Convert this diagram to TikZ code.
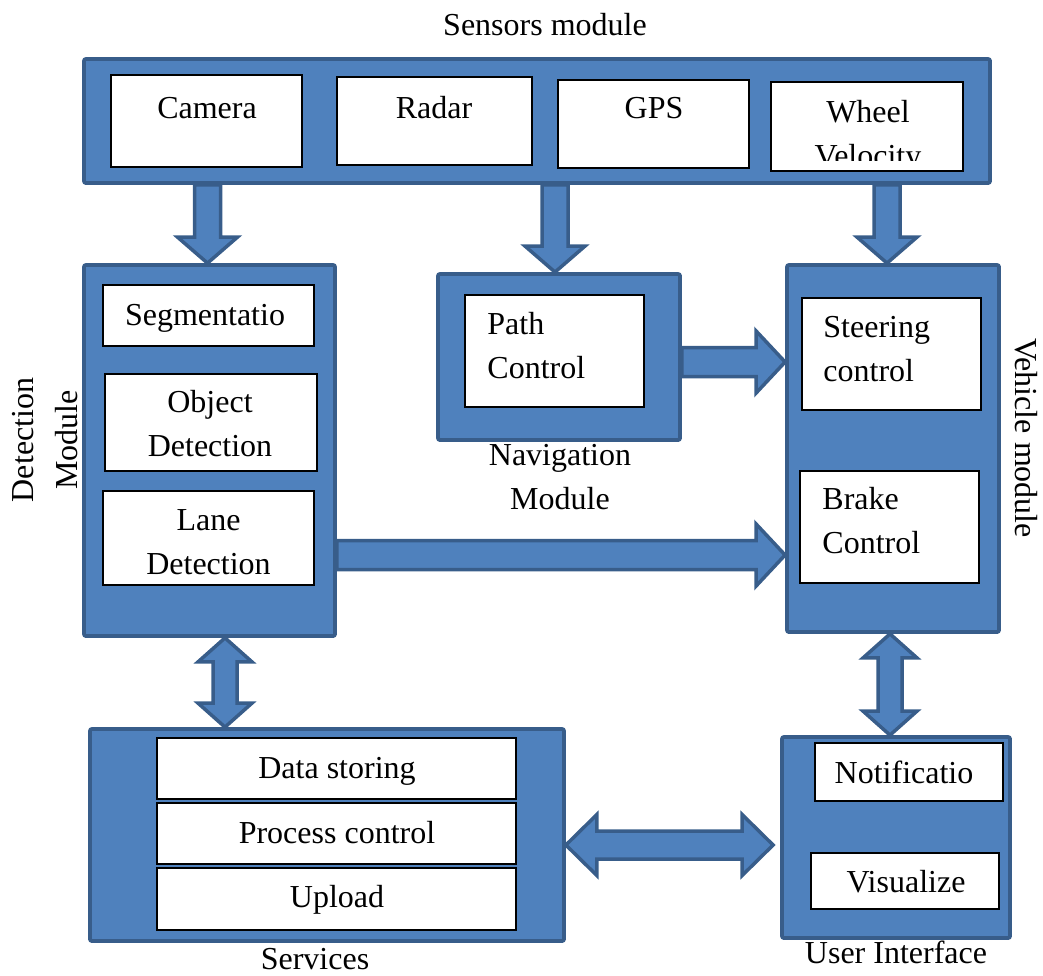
\documentclass[tikz,border=0pt]{standalone}
\usepackage{fontspec}
\setmainfont{Liberation Serif}
\usetikzlibrary{fit,calc}
\definecolor{bfill}{HTML}{4F81BD}
\definecolor{bdr}{HTML}{385D8A}
\newcommand\fs{\fontsize{16}{22}\selectfont}
\newcommand\ml[2][c]{\begin{tabular}[t]{@{}#1@{}}#2\end{tabular}}
% single block arrow, downwards: #1 start anchor (y), #2 tip anchor, #3 x offset (px)
\newcommand\varrowblk[3]{%
\draw[barrow] let \p1=(#1), \p2=($(#2)+(#3,0)$) in
 (\x2-6.5pt,\y1) -- (\x2+6.5pt,\y1) -- (\x2+6.5pt,\y2+13pt) -- (\x2+15pt,\y2+13pt)
 -- (\x2,\y2) -- (\x2-15pt,\y2+13pt) -- (\x2-6.5pt,\y2+13pt) -- cycle;}
% single block arrow, to the right: #1 start anchor (x), #2 tip anchor, #3 y offset (px)
\newcommand\harrowblk[3]{%
\draw[barrow] let \p1=(#1), \p2=($(#2)+(0,#3)$) in
 (\x1,\y2+7.25pt) -- (\x2-14.5pt,\y2+7.25pt) -- (\x2-14.5pt,\y2+15.5pt) -- (\x2,\y2)
 -- (\x2-14.5pt,\y2-15.5pt) -- (\x2-14.5pt,\y2-7.25pt) -- (\x1,\y2-7.25pt) -- cycle;}
% double block arrow, vertical: #1 top anchor, #2 bottom anchor, #3 x offset (px)
\newcommand\vdarrowblk[3]{%
\draw[barrow] let \p1=($(#1)+(#3,0)$), \p2=(#2) in
 (\x1,\y1) -- (\x1+13.5pt,\y1-12pt) -- (\x1+6pt,\y1-12pt) -- (\x1+6pt,\y2+12pt)
 -- (\x1+13.5pt,\y2+12pt) -- (\x1,\y2) -- (\x1-13.5pt,\y2+12pt) -- (\x1-6pt,\y2+12pt)
 -- (\x1-6pt,\y1-12pt) -- (\x1-13.5pt,\y1-12pt) -- cycle;}
% double block arrow, horizontal: #1 left anchor, #2 right anchor, #3 y offset, #4 right x offset
\newcommand\hdarrowblk[4]{%
\draw[barrow] let \p1=($(#1)+(0,#3)$), \p2=($(#2)+(#4,0)$) in
 (\x1,\y1) -- (\x1+15.5pt,\y1+15.25pt) -- (\x1+15.5pt,\y1+7pt) -- (\x2-15.5pt,\y1+7pt)
 -- (\x2-15.5pt,\y1+15.25pt) -- (\x2,\y1) -- (\x2-15.5pt,\y1-15.25pt) -- (\x2-15.5pt,\y1-7pt)
 -- (\x1+15.5pt,\y1-7pt) -- (\x1+15.5pt,\y1-15.25pt) -- cycle;}
\tikzset{
  bluebox/.style={draw=bdr, fill=bfill, line width=1.9pt, rounded corners=1pt, inner sep=0pt},
  whitebox/.style={draw=black, fill=white, line width=0.7pt, inner sep=0pt},
  barrow/.style={draw=bdr, fill=bfill, line width=1.75pt, line join=miter},
  txt/.style={inner sep=0pt, anchor=base}
}
\begin{document}
\begin{tikzpicture}[x=0.5pt, y=-0.5pt, font=\fs]
\useasboundingbox (0,0) rectangle (1043,975);
% module boxes
\node[bluebox, fit={(84,59)(990,183)}] (sens) {};
\node[bluebox, fit={(84,265)(335,636)}] (det) {};
\node[bluebox, fit={(438,274)(680,440)}] (nav) {};
\node[bluebox, fit={(787,265)(999,632)}] (veh) {};
\node[bluebox, fit={(90,729)(564,941)}] (serv) {};
\node[bluebox, fit={(782,737)(1010,938)}] (ui) {};
% inner boxes
\node[whitebox, fit={(111,75)(302,167)}] (cam) {};
\node[whitebox, fit={(337,77)(532,165)}] (radar) {};
\node[whitebox, fit={(558,80)(749,168)}] (gps) {};
\node[whitebox, fit={(771,82)(963,171)}] (wheel) {};
\node[whitebox, fit={(103,285)(314,346)}] (seg) {};
\node[whitebox, fit={(105,374)(317,471)}] (obj) {};
\node[whitebox, fit={(103,491)(314,585)}] (lane) {};
\node[whitebox, fit={(465,295)(644,407)}] (path) {};
\node[whitebox, fit={(802,298)(981,410)}] (steer) {};
\node[whitebox, fit={(800,471)(979,583)}] (brake) {};
\node[whitebox, fit={(157,738)(516,799)}] (data) {};
\node[whitebox, fit={(157,803)(516,864)}] (proc) {};
\node[whitebox, fit={(157,868)(516,930)}] (upl) {};
\node[whitebox, fit={(815,743)(1003,801)}] (notif) {};
\node[whitebox, fit={(811,853)(999,909)}] (vis) {};
% texts
\node[txt] (sensL) at (545,35) {Sensors module};
\node[txt] (camT) at (207,118) {Camera};
\node[txt] (radT) at (434,118) {Radar};
\node[txt] (gpsT) at (654,118) {GPS};
\begin{scope}
\clip (771,82) rectangle (963,160);
\node[txt] (wheT) at (868,122) {\ml{Wheel\\Velocity}};
\end{scope}
\node[txt] (segT) at (205,325) {Segmentatio};
\node[txt] (objT) at (210,412) {\ml{Object\\Detection}};
\node[txt] (laneT) at (208.5,530) {\ml{Lane\\Detection}};
\node[txt, rotate=90] (detL) at (33,440) {\ml{Detection\\Module}};
\node[txt, anchor=base west] (pathT) at (487,334) {\ml[l]{Path\\Control}};
\node[txt] (navL) at (560,465) {\ml{Navigation\\Module}};
\node[txt, anchor=base west] (steerT) at (823,337) {\ml[l]{Steering\\control}};
\node[txt, anchor=base west] (brakeT) at (822,509) {\ml[l]{Brake\\Control}};
\node[txt, rotate=-90] (vehL) at (1015,438) {Vehicle module};
\node[txt] (dataT) at (337,778) {Data storing};
\node[txt] (procT) at (337,843) {Process control};
\node[txt] (uplT) at (337,907) {Upload};
\node[txt] (servL) at (315,969) {Services};
\node[txt] (notT) at (904,783) {Notificatio};
\node[txt] (visT) at (906,892) {Visualize};
\node[txt] (uiL) at (896,963) {User Interface};
% block arrows
\varrowblk{sens.south}{det.north}{-2}
\varrowblk{sens.south}{nav.north}{-4}
\varrowblk{sens.south}{veh.north}{-6}
\harrowblk{nav.east}{veh.west}{-86.5}
\harrowblk{det.east}{veh.west}{106.5}
\vdarrowblk{det.south}{serv.north}{15.5}
\vdarrowblk{veh.south}{ui.north}{-3}
\hdarrowblk{serv.east}{ui.west}{10}{-7}
\end{tikzpicture}
\end{document}
